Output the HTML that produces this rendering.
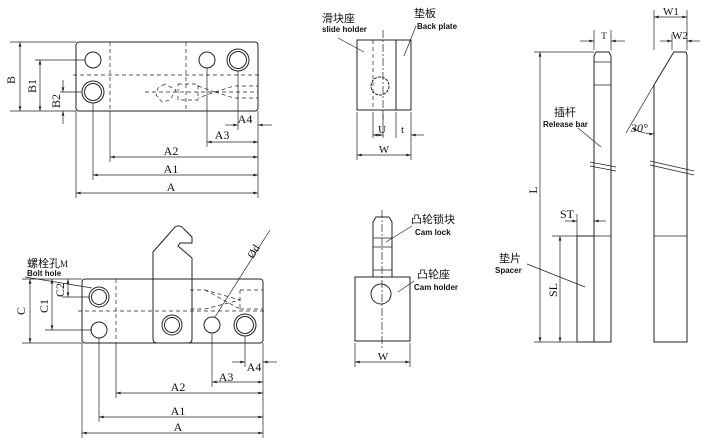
<!DOCTYPE html>
<html><head><meta charset="utf-8"><style>
html,body{margin:0;padding:0;background:#fff;width:710px;height:448px;overflow:hidden}
svg{display:block}
text{font-family:"Liberation Serif","Noto Serif CJK SC",serif;fill:#111}
.b{font-family:"Liberation Sans",sans-serif;font-weight:bold;font-size:8px}
.c{font-family:"Liberation Sans","Noto Sans CJK SC",sans-serif;font-size:11px}
</style></head><body>
<svg width="710" height="448" viewBox="0 0 710 448" xmlns="http://www.w3.org/2000/svg">
<defs><marker id="a" viewBox="0 0 10 6" refX="10" refY="3" markerWidth="7" markerHeight="4" orient="auto-start-reverse"><path d="M0,0L10,3L0,6z" fill="#222"/></marker></defs>
<g stroke="#222" fill="none" stroke-width="1">
<!-- TOP LEFT -->
<rect x="76" y="42" width="182" height="69" rx="3"/>
<circle cx="93" cy="60" r="8"/>
<circle cx="93" cy="92" r="11"/><circle cx="93" cy="92" r="8.5"/>
<circle cx="207" cy="60" r="8"/>
<circle cx="238" cy="60" r="11"/><circle cx="238" cy="60" r="8.5"/>
<g stroke-dasharray="4,3" stroke-width="0.7">
<line x1="110" y1="42" x2="110" y2="111"/><line x1="186" y1="42" x2="186" y2="111"/>
<line x1="73" y1="75" x2="262" y2="75"/><line x1="145" y1="92" x2="258" y2="92"/>
<path d="M165,84 L158,88 L156,95 L162,102 L170,100 L176,90 Z"/>
<rect x="178" y="84" width="20" height="16"/><path d="M198,86 L215,92 L198,98 M215,92 L234,86 L258,86 M215,92 L234,98 L258,98"/>
</g>
<g stroke-width="0.7">
<line x1="10" y1="42" x2="76" y2="42"/><line x1="10" y1="111" x2="76" y2="111"/>
<line x1="20" y1="42" x2="20" y2="111" marker-start="url(#a)" marker-end="url(#a)"/>
<line x1="35" y1="60" x2="85" y2="60"/>
<line x1="40" y1="60" x2="40" y2="111" marker-start="url(#a)" marker-end="url(#a)"/>
<line x1="60" y1="92" x2="82" y2="92"/>
<line x1="63" y1="80" x2="63" y2="92" marker-end="url(#a)"/><line x1="63" y1="124" x2="63" y2="111" marker-end="url(#a)"/>
<line x1="76" y1="111" x2="76" y2="198"/><line x1="93" y1="103" x2="93" y2="180"/>
<line x1="110" y1="111" x2="110" y2="162"/><line x1="207" y1="68" x2="207" y2="147"/>
<line x1="238" y1="71" x2="238" y2="130"/><line x1="258" y1="111" x2="258" y2="198"/>
<line x1="225" y1="125" x2="238" y2="125" marker-end="url(#a)"/><line x1="272" y1="125" x2="258" y2="125" marker-end="url(#a)"/>
<line x1="207" y1="142" x2="258" y2="142" marker-start="url(#a)" marker-end="url(#a)"/>
<line x1="110" y1="157" x2="258" y2="157" marker-start="url(#a)" marker-end="url(#a)"/>
<line x1="93" y1="175" x2="258" y2="175" marker-start="url(#a)" marker-end="url(#a)"/>
<line x1="76" y1="193" x2="258" y2="193" marker-start="url(#a)" marker-end="url(#a)"/>
</g>
<!-- BOTTOM LEFT -->
<rect x="82" y="279" width="181" height="64" rx="3"/>
<path d="M153,339 L153,252 L175,227 Q180,224 184,229 L192,237 L192,243 L180,243 L178,246 L192,258 L192,339 Q192,343 188,343 L157,343 Q153,343 153,339"/>
<circle cx="99" cy="297" r="10"/><circle cx="99" cy="297" r="7.5"/>
<circle cx="99" cy="330" r="8"/>
<circle cx="172" cy="325" r="10"/><circle cx="172" cy="325" r="7.5"/>
<circle cx="212" cy="325" r="8"/>
<circle cx="245" cy="325" r="11"/><circle cx="245" cy="325" r="8.5"/>
<g stroke-dasharray="4,3" stroke-width="0.7">
<line x1="116" y1="279" x2="116" y2="343"/><line x1="78" y1="311" x2="266" y2="311"/>
<path d="M190,290 L205,290 L240,300 L205,309 L190,309 M205,290 L240,309 M240,290 L263,290 M240,309 L263,309 M240,290 L240,309"/>
</g>
<g stroke-width="0.7">
<line x1="215" y1="317" x2="270" y2="230"/>
<line x1="22" y1="279" x2="82" y2="279"/><line x1="22" y1="343" x2="82" y2="343"/>
<line x1="30" y1="279" x2="30" y2="343" marker-start="url(#a)" marker-end="url(#a)"/>
<line x1="45" y1="330" x2="92" y2="330"/>
<line x1="52" y1="279" x2="52" y2="330" marker-start="url(#a)" marker-end="url(#a)"/>
<line x1="62" y1="297" x2="90" y2="297"/>
<line x1="68" y1="279" x2="68" y2="297" marker-start="url(#a)" marker-end="url(#a)"/>
<line x1="25" y1="277" x2="92" y2="288"/>
<line x1="82" y1="343" x2="82" y2="438"/><line x1="99" y1="338" x2="99" y2="422"/>
<line x1="116" y1="343" x2="116" y2="398"/><line x1="212" y1="333" x2="212" y2="387"/>
<line x1="245" y1="336" x2="245" y2="367"/><line x1="263" y1="343" x2="263" y2="438"/>
<line x1="232" y1="362" x2="245" y2="362" marker-end="url(#a)"/><line x1="277" y1="362" x2="263" y2="362" marker-end="url(#a)"/>
<line x1="212" y1="382" x2="263" y2="382" marker-start="url(#a)" marker-end="url(#a)"/>
<line x1="116" y1="393" x2="263" y2="393" marker-start="url(#a)" marker-end="url(#a)"/>
<line x1="99" y1="417" x2="263" y2="417" marker-start="url(#a)" marker-end="url(#a)"/>
<line x1="82" y1="433" x2="263" y2="433" marker-start="url(#a)" marker-end="url(#a)"/>
</g>
<!-- MIDDLE TOP -->
<rect x="357" y="40" width="54" height="70"/>
<line x1="396" y1="40" x2="396" y2="110"/>
<line x1="373" y1="40" x2="373" y2="110" stroke-dasharray="4,3" stroke-width="0.7"/>
<line x1="383" y1="30" x2="383" y2="120" stroke-dasharray="8,2,2,2" stroke-width="0.7"/>
<circle cx="380" cy="86" r="9" stroke-dasharray="3,1"/>
<g stroke-width="0.7">
<line x1="338" y1="38" x2="364" y2="52"/><line x1="416" y1="26" x2="404" y2="56"/>
<line x1="357" y1="112" x2="357" y2="160"/><line x1="411" y1="112" x2="411" y2="160"/>
<line x1="373" y1="112" x2="373" y2="138"/><line x1="383" y1="112" x2="383" y2="138"/><line x1="396" y1="112" x2="396" y2="138"/>
<line x1="373" y1="135" x2="383" y2="135" marker-start="url(#a)" marker-end="url(#a)"/>
<line x1="424" y1="135" x2="411" y2="135" marker-end="url(#a)"/>
<line x1="357" y1="155" x2="411" y2="155" marker-start="url(#a)" marker-end="url(#a)"/>
</g>
<!-- MIDDLE BOTTOM -->
<path d="M373,277 L373,222 L376,217 L389,217 L392,222 L392,277"/>
<g stroke-width="0.7"><line x1="373" y1="238" x2="392" y2="238"/><line x1="373" y1="247" x2="392" y2="247"/><line x1="373" y1="270" x2="392" y2="270"/></g>
<rect x="355" y="277" width="55" height="64"/>
<circle cx="381" cy="294" r="10"/>
<line x1="382" y1="210" x2="382" y2="350" stroke-dasharray="8,2,2,2" stroke-width="0.7"/>
<g stroke-width="0.7">
<line x1="412" y1="226" x2="386" y2="242"/><line x1="414" y1="281" x2="398" y2="292"/>
<line x1="355" y1="343" x2="355" y2="367"/><line x1="410" y1="343" x2="410" y2="367"/>
<line x1="355" y1="362" x2="410" y2="362" marker-start="url(#a)" marker-end="url(#a)"/>
</g>
<!-- RIGHT BARS -->
<path d="M594,342 L594,56 L596,52 L609,52 L611,56 L611,342 Z"/>
<line x1="594" y1="62" x2="611" y2="62" stroke-width="0.7"/><line x1="594" y1="85" x2="611" y2="85" stroke-width="0.7"/>
<line x1="594" y1="236" x2="611" y2="236" stroke-width="0.7"/>
<rect x="577" y="236" width="17" height="106"/>
<path d="M590,162 L616,167 M590,166 L616,171" stroke-width="0.8"/>
<path d="M654,342 L654,85 L672,55 L674,52 L686,52 L687,55 L687,342 Z"/>
<line x1="654" y1="236" x2="687" y2="236" stroke-width="0.7"/>
<path d="M650,161 L694,171 M650,165 L694,175" stroke-width="0.8"/>
<g stroke-width="0.7">
<line x1="534" y1="52" x2="594" y2="52"/><line x1="534" y1="342" x2="594" y2="342"/>
<line x1="540" y1="52" x2="540" y2="342" marker-start="url(#a)" marker-end="url(#a)"/>
<line x1="552" y1="236" x2="577" y2="236"/>
<line x1="560" y1="236" x2="560" y2="342" marker-start="url(#a)" marker-end="url(#a)"/>
<line x1="577" y1="214" x2="577" y2="236"/>
<line x1="565" y1="221" x2="577" y2="221" marker-end="url(#a)"/><line x1="606" y1="221" x2="594" y2="221" marker-end="url(#a)"/>
<line x1="594" y1="30" x2="594" y2="50"/><line x1="611" y1="30" x2="611" y2="50"/>
<line x1="580" y1="41" x2="594" y2="41" marker-end="url(#a)"/><line x1="625" y1="41" x2="611" y2="41" marker-end="url(#a)"/>
<line x1="654" y1="10" x2="654" y2="50"/><line x1="687" y1="10" x2="687" y2="50"/><line x1="672" y1="34" x2="672" y2="50"/>
<line x1="654" y1="17" x2="687" y2="17" marker-start="url(#a)" marker-end="url(#a)"/>
<line x1="660" y1="41" x2="672" y2="41" marker-end="url(#a)"/><line x1="700" y1="41" x2="687" y2="41" marker-end="url(#a)"/>
<line x1="654" y1="85" x2="626" y2="133"/>
<path d="M632,128 Q642,134 654,134" marker-start="url(#a)" marker-end="url(#a)"/>
<line x1="578" y1="128" x2="601" y2="147"/><line x1="527" y1="264" x2="585" y2="287"/>
</g>
</g>
<!-- TEXT -->
<text x="15" y="80" font-size="12" transform="rotate(-90 15 80)" text-anchor="middle">B</text>
<text x="36" y="86" font-size="12" transform="rotate(-90 36 86)" text-anchor="middle">B1</text>
<text x="60" y="101" font-size="12" transform="rotate(-90 60 101)" text-anchor="middle">B2</text>
<text x="245" y="123" font-size="12" text-anchor="middle">A4</text>
<text x="222" y="139" font-size="12" text-anchor="middle">A3</text>
<text x="171" y="155" font-size="12" text-anchor="middle">A2</text>
<text x="171" y="173" font-size="12" text-anchor="middle">A1</text>
<text x="171" y="191" font-size="12" text-anchor="middle">A</text>
<text x="27" y="267" class="c">螺栓孔<tspan font-size="9" font-family="Liberation Serif">M</tspan></text>
<text x="27" y="276" class="b">Bolt hole</text>
<text x="25" y="311" font-size="12" transform="rotate(-90 25 311)" text-anchor="middle">C</text>
<text x="48" y="306" font-size="12" transform="rotate(-90 48 306)" text-anchor="middle">C1</text>
<text x="64" y="290" font-size="12" transform="rotate(-90 64 290)" text-anchor="middle">C2</text>
<text x="253" y="259" font-size="11" transform="rotate(-58 253 259)">Ød</text>
<text x="254" y="371" font-size="12" text-anchor="middle">A4</text>
<text x="226" y="381" font-size="12" text-anchor="middle">A3</text>
<text x="178" y="391" font-size="12" text-anchor="middle">A2</text>
<text x="178" y="415" font-size="12" text-anchor="middle">A1</text>
<text x="178" y="431" font-size="12" text-anchor="middle">A</text>
<text x="322" y="22" class="c">滑块座</text>
<text x="322" y="32" class="b">slide holder</text>
<text x="414" y="17" class="c">垫板</text>
<text x="417" y="29" class="b">Back plate</text>
<text x="378" y="133" font-size="11">U</text>
<text x="401" y="133" font-size="11">t</text>
<text x="384" y="153" font-size="11" text-anchor="middle">W</text>
<text x="411" y="223" class="c">凸轮锁块</text>
<text x="415" y="235" class="b">Cam lock</text>
<text x="417" y="278" class="c">凸轮座</text>
<text x="414" y="290" class="b">Cam holder</text>
<text x="383" y="360" font-size="11" text-anchor="middle">W</text>
<text x="604" y="39" font-size="9" text-anchor="middle">T</text>
<text x="671" y="15" font-size="11" text-anchor="middle">W1</text>
<text x="680" y="39" font-size="11" text-anchor="middle">W2</text>
<text x="631" y="132" font-size="12" font-style="italic">30°</text>
<text x="554" y="116" class="c">插杆</text>
<text x="543" y="127" class="b">Release bar</text>
<text x="537" y="190" font-size="12" transform="rotate(-90 537 190)" text-anchor="middle">L</text>
<text x="567" y="218" font-size="12" text-anchor="middle">ST</text>
<text x="557" y="290" font-size="12" transform="rotate(-90 557 290)" text-anchor="middle">SL</text>
<text x="499" y="262" class="c">垫片</text>
<text x="495" y="273" class="b">Spacer</text>
</svg>
</body></html>
